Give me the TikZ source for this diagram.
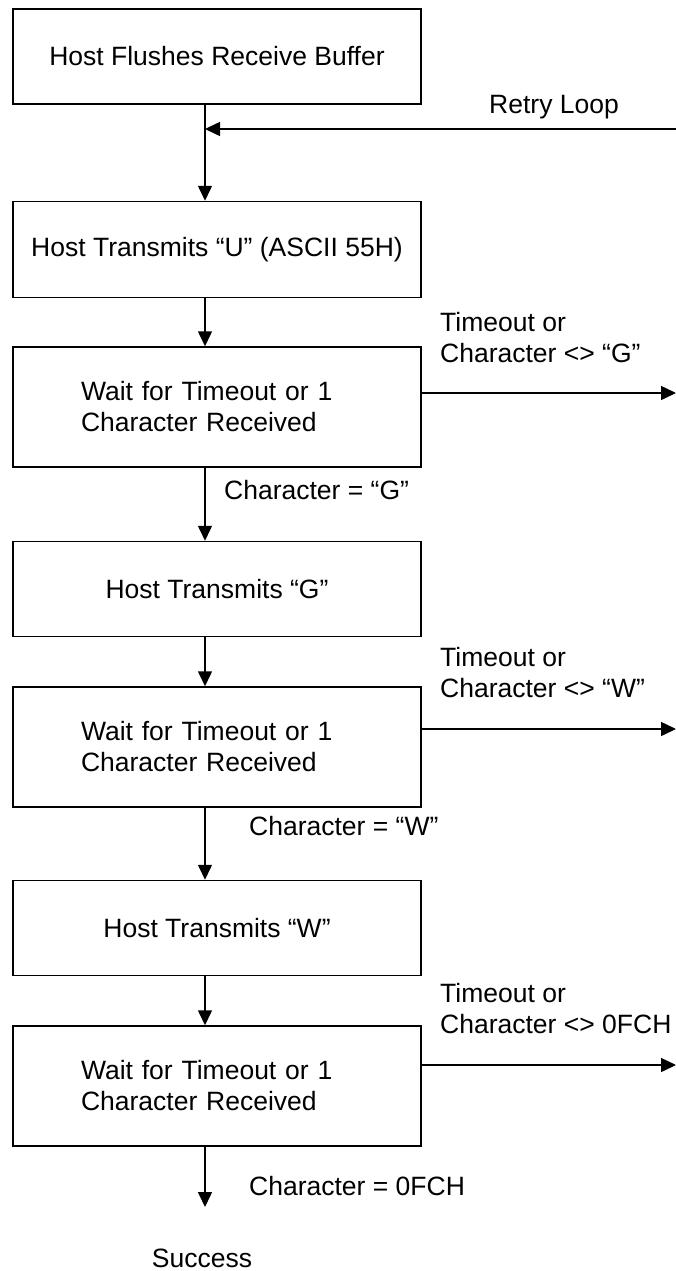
\documentclass[tikz,border=0pt]{standalone}
\usepackage{fontspec}
\setmainfont{Liberation Sans}
\usetikzlibrary{arrows.meta, positioning}
\tikzset{
    flowbox/.style={rectangle, draw=black, line width=1.5pt, minimum width=408pt,
        inner sep=0pt, text centered, font=\fontsize{26.5}{31}\selectfont},
    waitbox/.style={flowbox, minimum height=120pt, text width=272pt, align=left},
    flowarrow/.style={-{Triangle[length=15pt, width=14pt]}, line width=1.5pt},
    edgelabel/.style={anchor=west, inner sep=0pt, align=left,
        font=\fontsize{26.5}{31}\selectfont},
}
\begin{document}
\begin{tikzpicture}[x=1pt, y=-1pt, node distance=48pt]
    \useasboundingbox (0,0) rectangle (676,1271);

    % Main column of steps
    \node[flowbox, minimum height=95pt] (flush) at (217,56.5)
        {Host Flushes Receive Buffer};
    \node[flowbox, minimum height=96pt, below=96pt of flush] (sendU)
        {Host Transmits “U” (ASCII 55H)};
    \node[waitbox, below=48pt of sendU] (waitG)
        {Wait for Timeout or 1\\Character Received};
    \node[flowbox, minimum height=95pt, below=73pt of waitG] (sendG)
        {Host Transmits “G”};
    \node[waitbox, below=49pt of sendG] (waitW)
        {Wait for Timeout or 1\\Character Received};
    \node[flowbox, minimum height=95pt, below=72pt of waitW] (sendW)
        {Host Transmits “W”};
    \node[waitbox, below=49pt of sendW] (waitF)
        {Wait for Timeout or 1\\Character Received};
    \node[edgelabel, anchor=center] (success) at (202,1258) {Success};

    % Loose ends on the right and at the bottom
    \coordinate (retrystart) at (676,129);
    \coordinate (retryend) at (205,129);
    \coordinate (failG) at (676,393);
    \coordinate (failW) at (676,729);
    \coordinate (failF) at (676,1065);
    \coordinate (done) at (205,1207);

    % Labels
    \node[edgelabel] (retrylabel) at (489,107) {Retry Loop};
    \node[edgelabel] (failGlabel) at (440,337.5) {Timeout or\\Character <> “G”};
    \node[edgelabel] (failWlabel) at (440,673) {Timeout or\\Character <> “W”};
    \node[edgelabel] (failFlabel) at (440,1009) {Timeout or\\Character <> 0FCH};
    \node[edgelabel] (okGlabel) at (224,490) {Character = “G”};
    \node[edgelabel] (okWlabel) at (249,826) {Character = “W”};
    \node[edgelabel] (okFlabel) at (249,1186) {Character = 0FCH};

    % Downward flow
    \draw[flowarrow] ([xshift=-12pt]flush.south) -- ([xshift=-12pt]sendU.north);
    \draw[flowarrow] ([xshift=-12pt]sendU.south) -- ([xshift=-12pt]waitG.north);
    \draw[flowarrow] ([xshift=-12pt]waitG.south) -- ([xshift=-12pt]sendG.north);
    \draw[flowarrow] ([xshift=-12pt]sendG.south) -- ([xshift=-12pt]waitW.north);
    \draw[flowarrow] ([xshift=-12pt]waitW.south) -- ([xshift=-12pt]sendW.north);
    \draw[flowarrow] ([xshift=-12pt]sendW.south) -- ([xshift=-12pt]waitF.north);
    \draw[flowarrow] ([xshift=-12pt]waitF.south) -- (done);

    % Retry and failure branches
    \draw[flowarrow] (retrystart) -- (retryend);
    \draw[flowarrow] (waitG.east |- failG) -- (failG);
    \draw[flowarrow] (waitW.east |- failW) -- (failW);
    \draw[flowarrow] (waitF.east |- failF) -- (failF);
\end{tikzpicture}
\end{document}
